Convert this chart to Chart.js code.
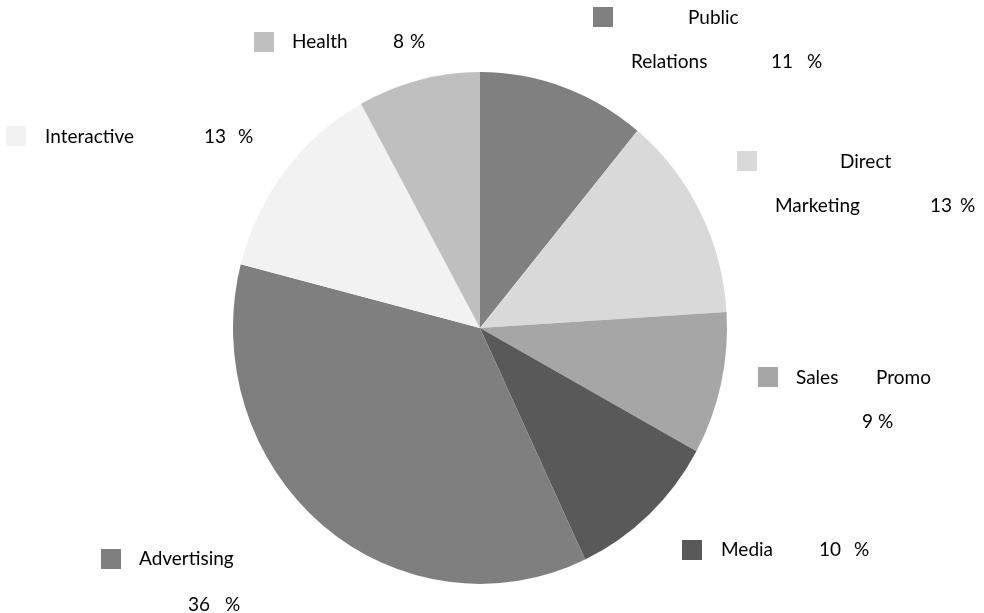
<!DOCTYPE html>
<html>
<head>
<meta charset="utf-8">
<script src="https://cdn.jsdelivr.net/npm/chart.js@4/dist/chart.umd.min.js"></script>
<style>
  html, body { margin: 0; padding: 0; background: #ffffff; }
  #wrap { width: 984px; height: 613px; position: relative; }
</style>
</head>
<body>
<div id="wrap"><canvas id="pieChart"></canvas></div>
<script>
// Budget split by channel (percent), clockwise from 12 o'clock
const categories = ['Public Relations', 'Direct Marketing', 'Sales Promo', 'Media', 'Advertising', 'Interactive', 'Health'];
const shares = [11, 13, 9, 10, 36, 13, 8];
const sliceColors = ['#808080', '#d9d9d9', '#a6a6a6', '#595959', '#7f7f7f', '#f2f2f2', '#bfbfbf'];

// Where each data label goes: swatch corner, then the words / value / percent sign
const labelLayout = [
  { box: [593, 7],   parts: [['w0', 688, 18], ['w1', 631, 62], ['v', 771, 62], ['%', 807, 62]] },
  { box: [737, 151], parts: [['w0', 840, 162], ['w1', 775, 206], ['v', 930, 206], ['%', 960, 206]] },
  { box: [758, 367], parts: [['w0', 796, 378], ['w1', 876, 378], ['v', 862, 422], ['%', 878, 422]] },
  { box: [682, 540], parts: [['w0', 721, 550], ['v', 819, 550], ['%', 854, 550]] },
  { box: [101, 549], parts: [['w0', 139, 559], ['v', 188, 605], ['%', 225, 605]] },
  { box: [6, 126],   parts: [['w0', 45, 137], ['v', 204, 137], ['%', 238, 137]] },
  { box: [254, 32],  parts: [['w0', 292, 42], ['v', 393, 42], ['%', 410, 42]] }
];

const labelFont = '19px Lato, "Open Sans", sans-serif';
const pieStretchY = 1.036; // pie is drawn slightly taller than wide

// Stretch the pie vertically about its centre
const stretchPie = {
  id: 'stretchPie',
  beforeDatasetsDraw(chart) {
    const arc = chart.getDatasetMeta(0).data[0];
    const cy = arc ? arc.y : (chart.chartArea.top + chart.chartArea.bottom) / 2;
    chart.ctx.save();
    chart.ctx.translate(0, cy);
    chart.ctx.scale(1, pieStretchY);
    chart.ctx.translate(0, -cy);
  },
  afterDatasetsDraw(chart) {
    chart.ctx.restore();
  }
};

// Draws swatch + label text beside the pie
const sideLabels = {
  id: 'sideLabels',
  afterDraw(chart) {
    const ctx = chart.ctx;
    const colors = chart.data.datasets[0].backgroundColor;
    const values = chart.data.datasets[0].data;
    ctx.save();
    ctx.font = labelFont;
    ctx.textAlign = 'left';
    ctx.textBaseline = 'middle';
    chart.data.labels.forEach((label, i) => {
      const lay = labelLayout[i];
      const words = label.split(' ');
      ctx.fillStyle = colors[i];
      ctx.fillRect(lay.box[0], lay.box[1], 20, 20);
      ctx.fillStyle = '#000000';
      lay.parts.forEach(p => {
        let txt = '';
        if (p[0] === 'v') txt = String(values[i]);
        else if (p[0] === '%') txt = '%';
        else txt = words[parseInt(p[0].slice(1))];
        ctx.fillText(txt, p[1], p[2]);
      });
    });
    ctx.restore();
  }
};

const ctx = document.getElementById('pieChart').getContext('2d');
new Chart(ctx, {
  type: 'pie',
  data: {
    labels: categories,
    datasets: [{
      data: shares,
      backgroundColor: sliceColors,
      borderWidth: 0
    }]
  },
  options: {
    responsive: true,
    maintainAspectRatio: false,
    animation: false,
    layout: { padding: { top: 81, bottom: 38, left: 0, right: 24 } },
    plugins: {
      legend: { display: false },
      tooltip: { enabled: false }
    }
  },
  plugins: [stretchPie, sideLabels]
});
</script>
</body>
</html>
